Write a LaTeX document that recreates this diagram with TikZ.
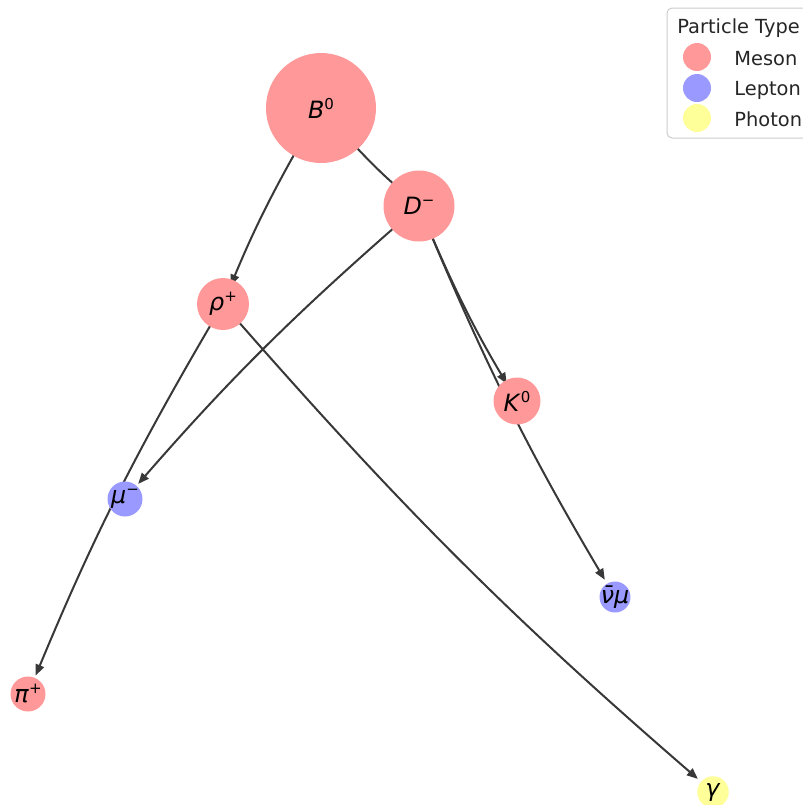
\documentclass[tikz,border=0pt]{standalone}
\usepackage{fontspec}
\setmainfont{DejaVu Sans}
\usetikzlibrary{arrows.meta,backgrounds}

\definecolor{mesonred}{HTML}{FF9999}
\definecolor{leptonblue}{HTML}{9999FF}
\definecolor{photonyellow}{HTML}{FFFF99}
\definecolor{edgegray}{HTML}{383838}

\tikzset{
  particle/.style={circle,inner sep=0pt},
  meson/.style={particle,fill=mesonred},
  lepton/.style={particle,fill=leptonblue},
  photon/.style={particle,fill=photonyellow},
  tag/.style={font=\fontsize{11.9}{14}\selectfont,inner sep=0pt},
  decay/.style={draw=edgegray,line width=1pt,-{Triangle[length=5.5pt,width=4.4pt]},
    shorten >=10pt,bend right=4},
  legendtext/.style={anchor=base west,inner sep=0pt,font=\fontsize{9.7}{11}\selectfont,text=black!85}
}
% symbol with a raised index
\newcommand{\sym}[2]{\textit{#1}\raisebox{4.5pt}{\fontsize{7.5}{8}\selectfont #2}}

\begin{document}
\begin{tikzpicture}[x=0.5pt,y=-0.5pt]
\useasboundingbox (0,0) rectangle (803,805);
\clip (0,0) rectangle (803,805);

% particles
\node[meson,minimum size=55pt,label={[tag]center:\sym{B}{0}}] (B0) at (321,108) {};
\node[meson,minimum size=35.5pt,label={[tag]center:\sym{D}{−}}] (Dm) at (419,206) {};
\node[meson,minimum size=26pt,label={[tag]center:\sym{ρ}{+}}] (rho) at (223,304) {};
\node[meson,minimum size=23.5pt,label={[tag]center:\sym{K}{0}}] (K0) at (517,401) {};
\node[lepton,minimum size=17.5pt,label={[tag]center:\sym{μ}{−}}] (mu) at (125,499) {};
\node[lepton,minimum size=15.5pt,label={[tag]center:\textit{ν̄μ}}] (numu) at (615,597) {};
\node[meson,minimum size=17.5pt,label={[tag]center:\sym{π}{+}}] (pi) at (28,694) {};
\node[photon,minimum size=15.75pt,label={[tag]center:\textit{γ}}] (gam) at (713,792) {};

% decays
\begin{scope}[on background layer]
\draw[decay] (B0.center) to (rho.center);
\draw[decay] (B0.center) to (Dm.center);
\draw[decay] (Dm.center) to (K0.center);
\draw[decay] (Dm.center) to (numu.center);
\draw[decay] (Dm.center) to (mu.center);
\draw[decay] (rho.center) to (pi.center);
\draw[decay] (rho.center) to (gam.center);
\end{scope}

% legend
\draw[black!20,line width=0.5pt,fill=white,rounded corners=2.5pt] (667,8) rectangle (830,138);
\node[legendtext] (legtitle) at (677,33) {Particle Type};
\node[meson,minimum size=14pt] (legmeson) at (697,57) {};
\node[lepton,minimum size=14pt] (leglepton) at (697,88) {};
\node[photon,minimum size=14pt] (legphoton) at (697,118) {};
\node[legendtext] (txtmeson) at (734,65) {Meson};
\node[legendtext] (txtlepton) at (734,95.5) {Lepton};
\node[legendtext] (txtphoton) at (734,126) {Photon};
\end{tikzpicture}
\end{document}
